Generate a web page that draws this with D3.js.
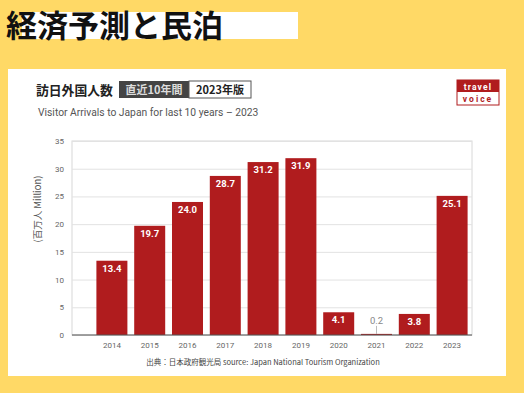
<!DOCTYPE html>
<html lang="ja">
<head>
<meta charset="utf-8">
<style>
  body { margin: 0; background: #ffd966; }
  svg { display: block; font-family: Roboto, "Noto Sans CJK JP", sans-serif; }
</style>
</head>
<body>
<div id="chart"></div>
<script src="https://cdnjs.cloudflare.com/ajax/libs/d3/7.8.5/d3.min.js"></script>
<script>
// data
var years = ['2014', '2015', '2016', '2017', '2018', '2019', '2020', '2021', '2022', '2023'];
var visitors = [13.4, 19.7, 24.0, 28.7, 31.2, 31.9, 4.1, 0.2, 3.8, 25.1];
var yTicks = [0, 5, 10, 15, 20, 25, 30, 35];

var width = 524, height = 393;
var barColor = '#b01c1e';

var svg = d3.select('#chart').append('svg')
    .attr('width', width)
    .attr('height', height);

svg.append('rect').attr('width', width).attr('height', height).attr('fill', '#ffd966');

// page header
svg.append('rect').attr('x', 22).attr('y', 12).attr('width', 276).attr('height', 27).attr('fill', '#fff');
svg.append('text')
    .attr('x', 6).attr('y', 37)
    .attr('font-family', '"Noto Sans CJK JP", sans-serif')
    .attr('font-weight', 700).attr('font-size', 31)
    .attr('fill', '#111')
    .text('経済予測と民泊');

// card
svg.append('rect').attr('x', 8).attr('y', 69).attr('width', 498).attr('height', 307).attr('fill', '#fff');

// chart title
svg.append('text')
    .attr('x', 36).attr('y', 95)
    .attr('font-family', '"Noto Sans CJK JP", sans-serif')
    .attr('font-weight', 700).attr('font-size', 12.8)
    .attr('fill', '#222')
    .text('訪日外国人数');

svg.append('rect').attr('x', 119).attr('y', 81).attr('width', 70).attr('height', 17).attr('fill', '#444');
svg.append('rect').attr('x', 189).attr('y', 81).attr('width', 62).attr('height', 17)
    .attr('fill', '#fff').attr('stroke', '#555').attr('stroke-width', 1);
svg.append('text')
    .attr('x', 154).attr('y', 94).attr('text-anchor', 'middle')
    .attr('font-family', '"Noto Sans CJK JP", sans-serif')
    .attr('font-weight', 700).attr('font-size', 11).attr('fill', '#ddd')
    .text('直近10年間');
svg.append('text')
    .attr('x', 220).attr('y', 94).attr('text-anchor', 'middle')
    .attr('font-family', '"Noto Sans CJK JP", sans-serif')
    .attr('font-weight', 700).attr('font-size', 11).attr('fill', '#222')
    .text('2023年版');

svg.append('text')
    .attr('x', 38).attr('y', 116)
    .attr('font-size', 10.3).attr('fill', '#555')
    .text('Visitor Arrivals to Japan for last 10 years  \u2013  2023');

// logo
var logo = svg.append('g').attr('transform', 'translate(457,80)');
logo.append('rect').attr('width', 42).attr('height', 25).attr('fill', '#fff').attr('stroke', '#b01c1e').attr('stroke-width', 1);
logo.append('rect').attr('width', 42).attr('height', 12).attr('fill', '#b01c1e');
logo.append('text').attr('x', 21).attr('y', 9.5).attr('text-anchor', 'middle')
    .attr('font-size', 8.5).attr('font-weight', 700).attr('letter-spacing', 1.2).attr('fill', '#fff').text('travel');
logo.append('text').attr('x', 21).attr('y', 22).attr('text-anchor', 'middle')
    .attr('font-size', 8.5).attr('font-weight', 700).attr('letter-spacing', 2).attr('fill', '#b01c1e').text('voice');

// plot area
var plot = { left: 72, right: 472, top: 141, bottom: 335 };

var x = d3.scaleBand()
    .domain(years)
    .range([93, 471])
    .paddingInner(0.18)
    .paddingOuter(0.09);

var y = d3.scaleLinear()
    .domain([0, 35])
    .range([plot.bottom, plot.top]);

// frame + grid
svg.append('rect')
    .attr('x', plot.left).attr('y', plot.top)
    .attr('width', plot.right - plot.left).attr('height', plot.bottom - plot.top)
    .attr('fill', 'none').attr('stroke', '#d8d8d8');

var yAxis = svg.append('g')
    .attr('transform', 'translate(' + plot.left + ',0)')
    .call(d3.axisLeft(y).tickValues(yTicks).tickSize(-(plot.right - plot.left)).tickPadding(8));
yAxis.select('.domain').remove();
yAxis.selectAll('line').attr('stroke', '#e2e2e2');
yAxis.selectAll('text').attr('font-size', 8).attr('fill', '#666').attr('font-family', 'Roboto, sans-serif');

svg.append('text')
    .attr('transform', 'translate(41,209) rotate(-90)')
    .attr('text-anchor', 'middle')
    .attr('font-family', '"Noto Sans CJK JP", sans-serif')
    .attr('font-size', 9.5).attr('fill', '#555')
    .text('(百万人 Million)');

// bars
svg.selectAll('.bar')
    .data(years)
    .enter().append('rect')
    .attr('class', 'bar')
    .attr('x', function(d) { return x(d); })
    .attr('y', function(d, i) { return y(visitors[i]); })
    .attr('width', x.bandwidth())
    .attr('height', function(d, i) { return plot.bottom - y(visitors[i]); })
    .attr('fill', barColor);

// baseline
svg.append('line')
    .attr('x1', plot.left).attr('x2', plot.right)
    .attr('y1', plot.bottom).attr('y2', plot.bottom)
    .attr('stroke', '#555').attr('stroke-width', 1.2);

// value labels
years.forEach(function(d, i) {
    var v = visitors[i];
    var cx = x(d) + x.bandwidth() / 2;
    if (v < 1) {
        svg.append('line')
            .attr('x1', cx).attr('x2', cx)
            .attr('y1', y(v)).attr('y2', y(v) - 8)
            .attr('stroke', '#aaa').attr('stroke-width', 0.8);
        svg.append('text')
            .attr('x', cx).attr('y', y(v) - 10)
            .attr('text-anchor', 'middle')
            .attr('font-size', 9.5).attr('fill', '#888')
            .text(v.toFixed(1));
    } else {
        svg.append('text')
            .attr('x', cx).attr('y', y(v) + 11)
            .attr('text-anchor', 'middle')
            .attr('font-size', 9.5).attr('font-weight', 700).attr('fill', '#fff')
            .text(v.toFixed(1));
    }
});

// x labels
var xAxis = svg.append('g')
    .attr('transform', 'translate(0,' + plot.bottom + ')')
    .call(d3.axisBottom(x).tickSize(0).tickPadding(7));
xAxis.select('.domain').remove();
xAxis.selectAll('text').attr('font-size', 8).attr('fill', '#666').attr('font-family', 'Roboto, sans-serif');

// source
svg.append('text')
    .attr('x', 263).attr('y', 365)
    .attr('text-anchor', 'middle')
    .attr('font-family', '"Noto Sans CJK JP", sans-serif')
    .attr('font-size', 7.5).attr('fill', '#444')
    .text('出典：日本政府観光局  source: Japan National Tourism Organization');
</script>
</body>
</html>
